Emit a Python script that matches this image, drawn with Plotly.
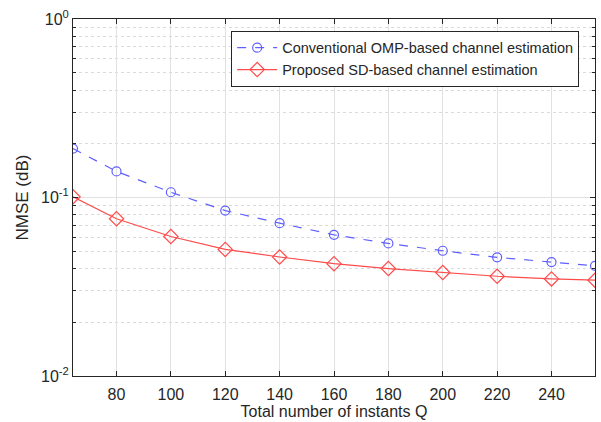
import plotly.graph_objects as go

Q = [64, 80, 100, 120, 140, 160, 180, 200, 220, 240, 256]
omp_nmse = [0.188, 0.140, 0.107, 0.0845, 0.0718, 0.0618, 0.0553, 0.0503, 0.0462, 0.0435, 0.0414]
sd_nmse = [0.101, 0.076, 0.0605, 0.0512, 0.0464, 0.0426, 0.0400, 0.0380, 0.0362, 0.0350, 0.0344]
x_ticks = [80, 100, 120, 140, 160, 180, 200, 220, 240]
y_tickvals = [0.01, 0.1, 1]
y_ticktext = ["10<sup>-2</sup>", "10<sup>-1</sup>", "10<sup>0</sup>"]

blue = "rgb(95,95,255)"
red = "rgb(255,75,75)"
font = "Liberation Sans, Arial, sans-serif"

fig = go.Figure()
fig.add_trace(go.Scatter(
    x=Q, y=omp_nmse, mode="lines+markers",
    name="Conventional OMP-based channel estimation",
    line=dict(color=blue, width=1.2, dash="dash"),
    marker=dict(symbol="circle-open", size=9, color=blue, line=dict(width=1.2)),
))
fig.add_trace(go.Scatter(
    x=Q, y=sd_nmse, mode="lines+markers",
    name="Proposed SD-based channel estimation",
    line=dict(color=red, width=1.2),
    marker=dict(symbol="diamond-open", size=11, color=red, line=dict(width=1.2)),
))

axis_common = dict(
    showline=True, linecolor="#262626", linewidth=1, mirror="ticks",
    ticks="inside", tickcolor="#262626", ticklen=5,
    tickfont=dict(family=font, size=16, color="#262626"),
    zeroline=False,
)

fig.update_xaxes(
    range=[64, 256], tickvals=x_ticks, ticklabelstandoff=4,
    showgrid=True, gridcolor="rgb(225,225,225)", gridwidth=1,
    title=dict(text="Total number of instants Q", font=dict(family=font, size=16, color="#262626"), standoff=3),
    **axis_common,
)
fig.update_yaxes(
    type="log", range=[-2, 0], tickmode="array", tickvals=y_tickvals, ticktext=y_ticktext,
    showgrid=True, gridcolor="rgb(225,225,225)", gridwidth=1,
    minor=dict(dtick="D1", ticks="inside", ticklen=3, tickcolor="#262626",
               showgrid=True, gridcolor="rgb(218,218,218)", griddash="dot", gridwidth=1),
    title=dict(text="NMSE (dB)", font=dict(family=font, size=17, color="#262626"), standoff=8),
    **axis_common,
)

fig.update_layout(
    width=601, height=422,
    margin=dict(l=73, r=5, t=19, b=44),
    paper_bgcolor="white", plot_bgcolor="white",
    font=dict(family=font, color="#262626"),
    legend=dict(
        x=0.303, y=0.967, xanchor="left", yanchor="top",
        bgcolor="white", bordercolor="#262626", borderwidth=1,
        font=dict(family=font, size=14.5, color="#262626"),
        tracegroupgap=0, itemwidth=40,
    ),
    showlegend=True,
)

fig.write_html("out.html")
